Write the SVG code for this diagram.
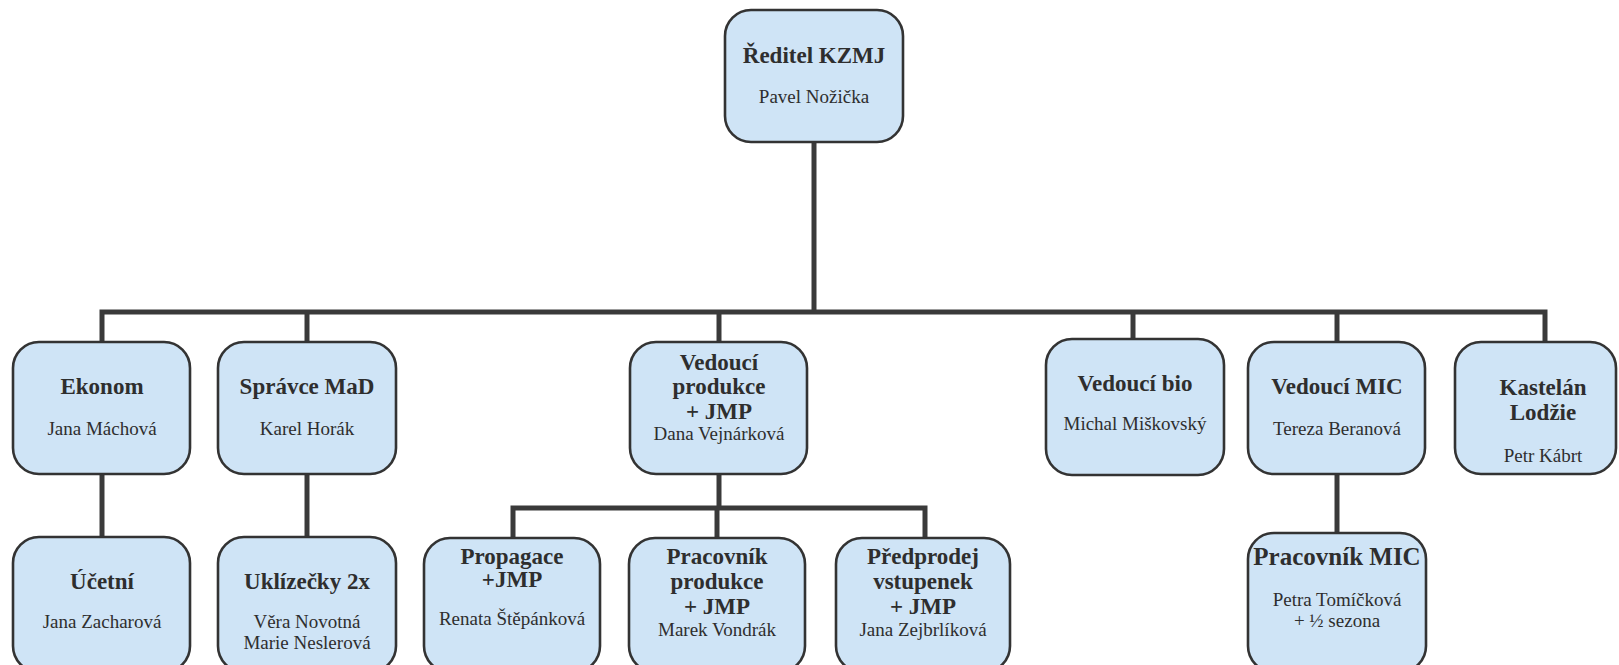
<svg xmlns="http://www.w3.org/2000/svg" width="1619" height="665" viewBox="0 0 1619 665">
<style>
.box{fill:#cfe4f6;stroke:#333;stroke-width:2.6}
.t{font-family:"Liberation Serif","Times New Roman",serif;font-weight:bold;font-size:23px;fill:#2e2e2e;text-anchor:middle}
.n{font-family:"Liberation Serif","Times New Roman",serif;font-size:19px;fill:#2e2e2e;text-anchor:middle}
.c{fill:none;stroke:#3a3a3a;stroke-width:5;stroke-linejoin:miter;stroke-linecap:butt}
</style>
<rect width="1619" height="665" fill="#ffffff"/>
<g id="connectors" class="c">
<path d="M814 142V312"/>
<path d="M102 342V312H1545V342"/>
<path d="M307 312V342"/>
<path d="M719 312V342"/>
<path d="M1133 312V339"/>
<path d="M1337 312V342"/>
<path d="M102 474V537"/>
<path d="M307 474V537"/>
<path d="M719 474V508"/>
<path d="M513 538V508H925V538"/>
<path d="M717 508V538"/>
<path d="M1337 474V533"/>
</g>
<g id="reditel"><rect class="box" x="725" y="10" width="178" height="132" rx="26"/><text class="t" x="814" y="63">Ředitel KZMJ</text><text class="n" x="814" y="103">Pavel Nožička</text></g>
<g id="ekonom"><rect class="box" x="13" y="342" width="177" height="132" rx="26"/><text class="t" x="102" y="394">Ekonom</text><text class="n" x="102" y="435">Jana Máchová</text></g>
<g id="spravce"><rect class="box" x="218" y="342" width="178" height="132" rx="26"/><text class="t" x="307" y="394">Správce MaD</text><text class="n" x="307" y="435">Karel Horák</text></g>
<g id="vedouci-produkce"><rect class="box" x="630" y="342" width="177" height="132" rx="26"/><text class="t" x="719" y="370">Vedoucí</text><text class="t" x="719" y="394">produkce</text><text class="t" x="719" y="419">+ JMP</text><text class="n" x="719" y="440">Dana Vejnárková</text></g>
<g id="vedouci-bio"><rect class="box" x="1046" y="339" width="178" height="136" rx="26"/><text class="t" x="1135" y="391">Vedoucí bio</text><text class="n" x="1135" y="430">Michal Miškovský</text></g>
<g id="vedouci-mic"><rect class="box" x="1248" y="342" width="177" height="132" rx="26"/><text class="t" x="1337" y="394">Vedoucí MIC</text><text class="n" x="1337" y="435">Tereza Beranová</text></g>
<g id="kastelan"><rect class="box" x="1455" y="342" width="161" height="132" rx="26"/><text class="t" x="1543" y="395">Kastelán</text><text class="t" x="1543" y="420">Lodžie</text><text class="n" x="1543" y="462">Petr Kábrt</text></g>
<g id="ucetni"><rect class="box" x="13" y="537" width="177" height="135" rx="26"/><text class="t" x="102" y="589">Účetní</text><text class="n" x="102" y="628">Jana Zacharová</text></g>
<g id="uklizecky"><rect class="box" x="218" y="537" width="178" height="135" rx="26"/><text class="t" x="307" y="589">Uklízečky 2x</text><text class="n" x="307" y="628">Věra Novotná</text><text class="n" x="307" y="649">Marie Neslerová</text></g>
<g id="propagace"><rect class="box" x="424" y="538" width="176" height="134" rx="26"/><text class="t" x="512" y="564">Propagace</text><text class="t" x="512" y="587">+JMP</text><text class="n" x="512" y="625">Renata Štěpánková</text></g>
<g id="pracovnik-produkce"><rect class="box" x="629" y="538" width="176" height="134" rx="26"/><text class="t" x="717" y="564">Pracovník</text><text class="t" x="717" y="589">produkce</text><text class="t" x="717" y="614">+ JMP</text><text class="n" x="717" y="636">Marek Vondrák</text></g>
<g id="predprodej"><rect class="box" x="836" y="538" width="174" height="134" rx="26"/><text class="t" x="923" y="564">Předprodej</text><text class="t" x="923" y="589">vstupenek</text><text class="t" x="923" y="614">+ JMP</text><text class="n" x="923" y="636">Jana Zejbrlíková</text></g>
<g id="pracovnik-mic"><rect class="box" x="1248" y="533" width="178" height="139" rx="26"/><text class="t" x="1337" y="565" style="font-size:25px">Pracovník MIC</text><text class="n" x="1337" y="606">Petra Tomíčková</text><text class="n" x="1337" y="627">+ ½ sezona</text></g>
</svg>
